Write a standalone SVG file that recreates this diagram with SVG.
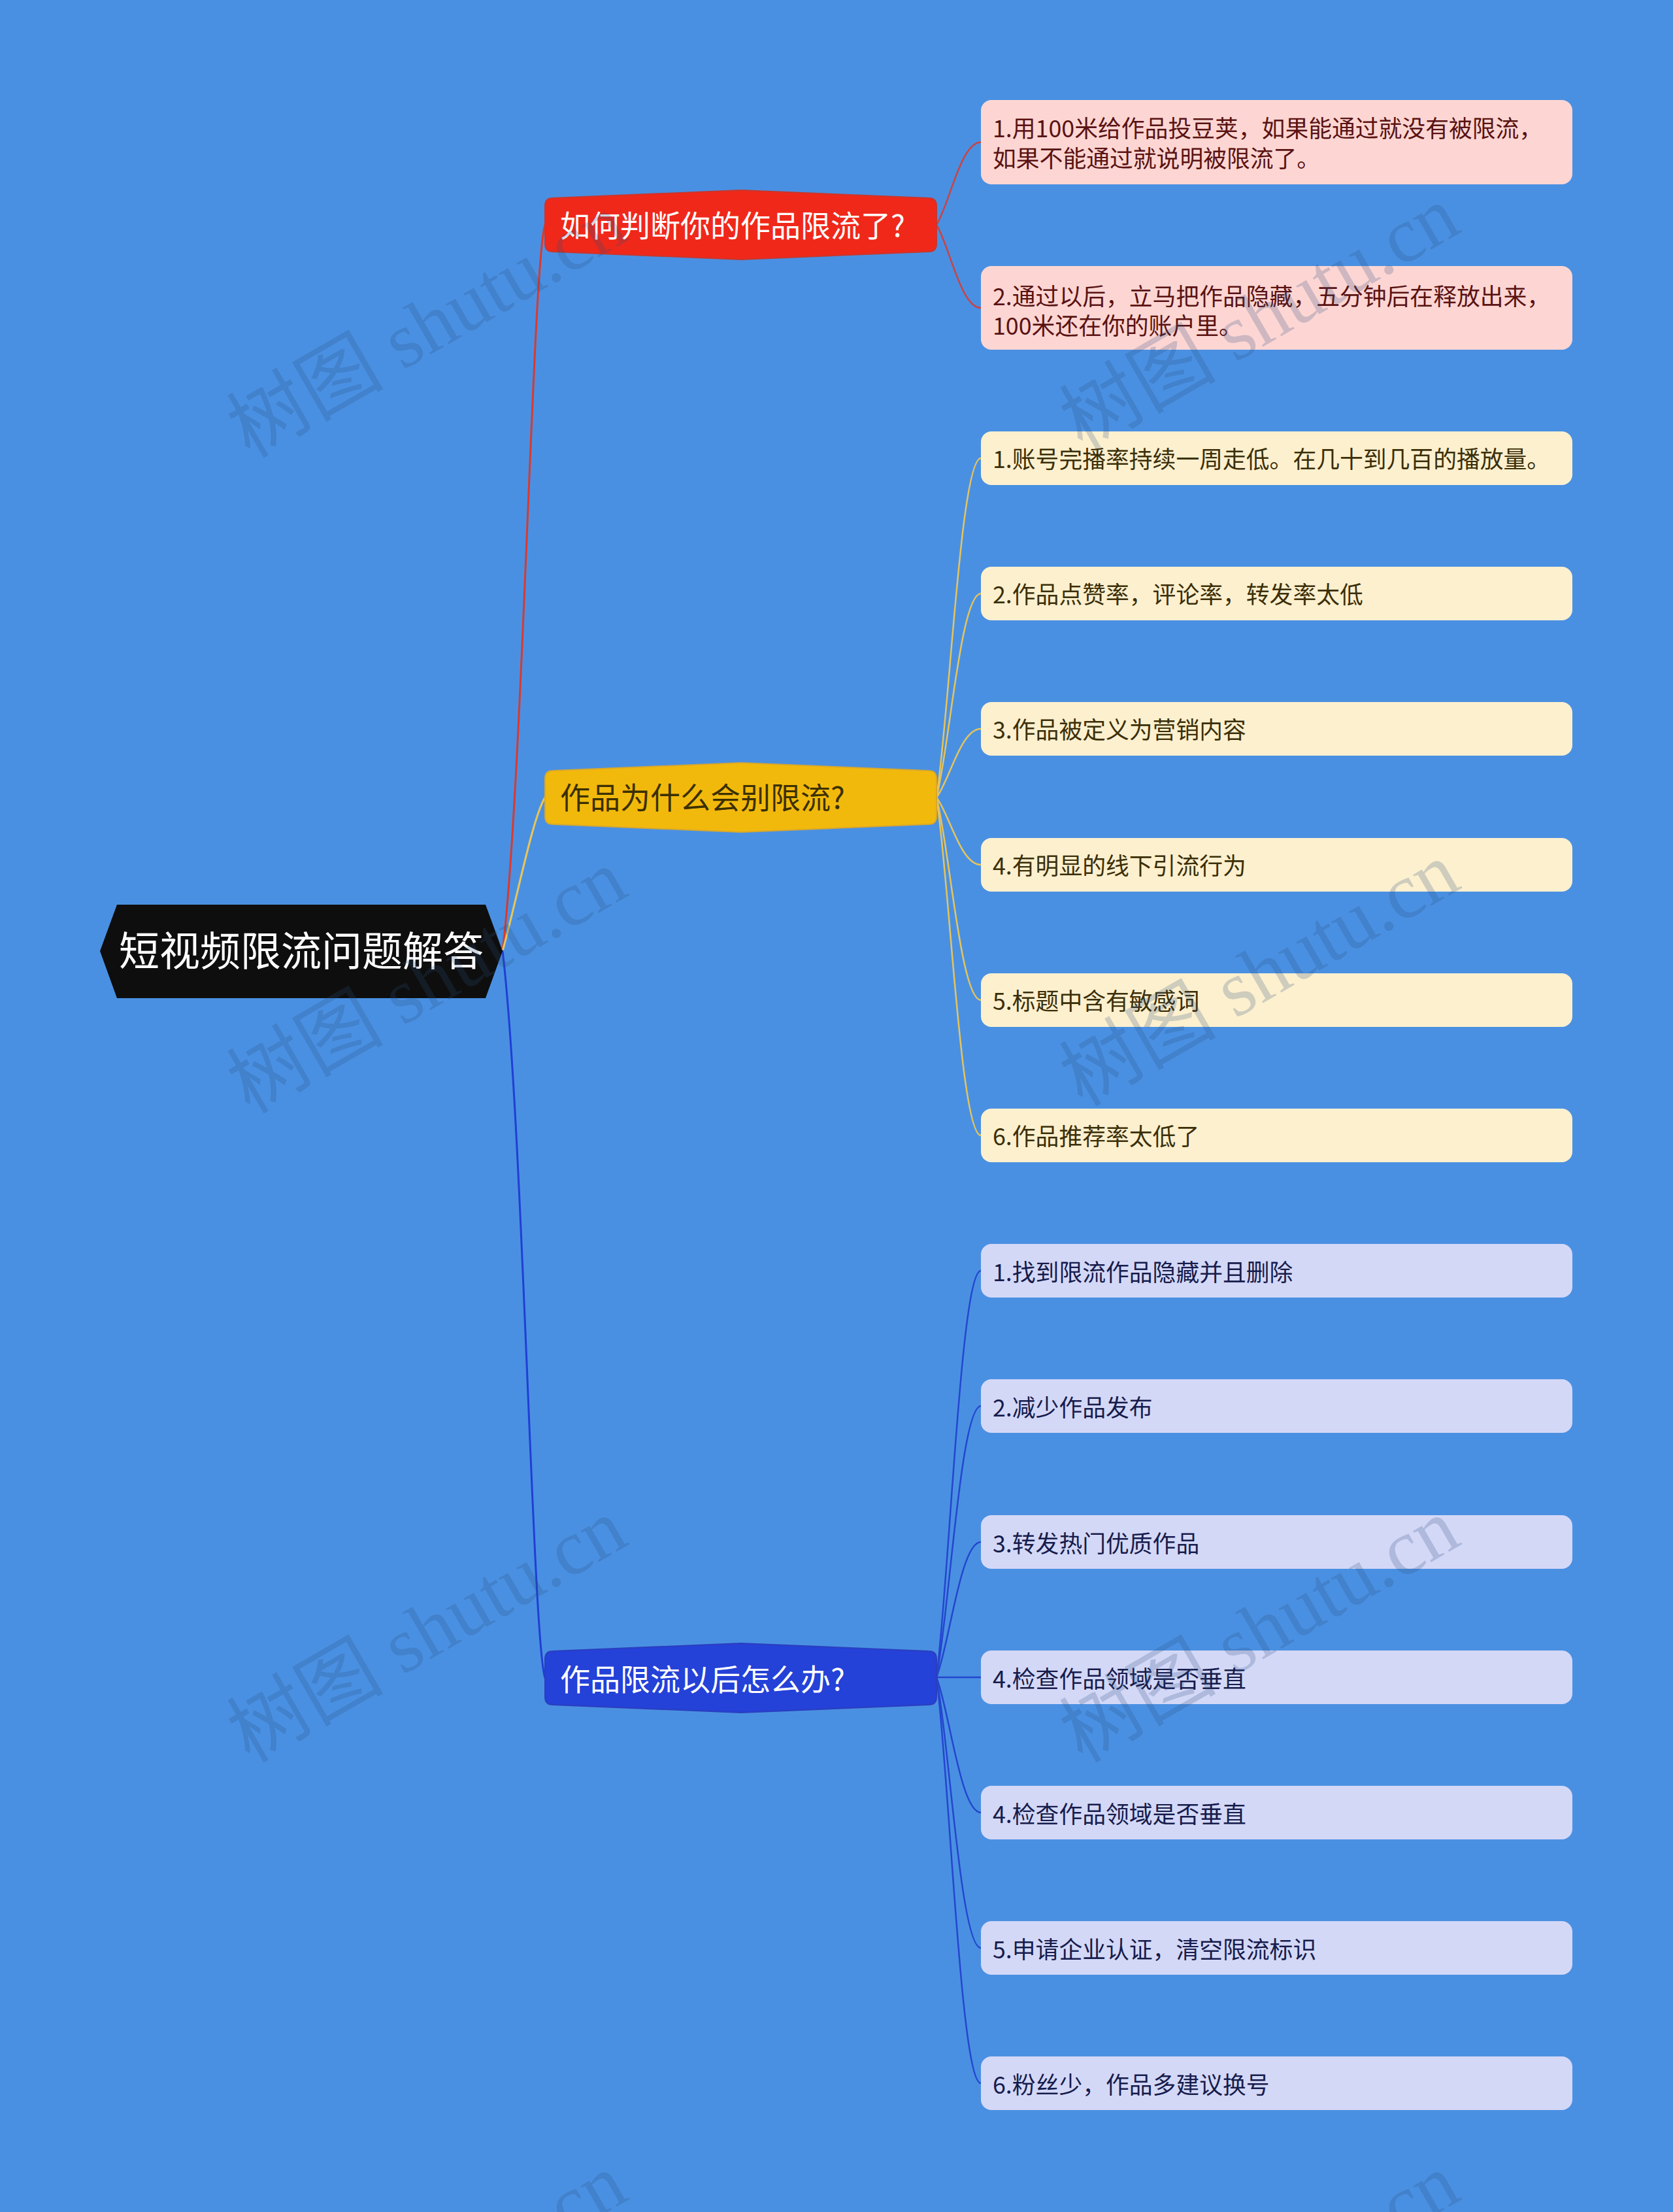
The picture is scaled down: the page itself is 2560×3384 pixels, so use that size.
<svg xmlns="http://www.w3.org/2000/svg" width="2560" height="3384" viewBox="0 0 2560 3384">
<style>
text{font-family:"Noto Sans CJK SC","Liberation Sans",sans-serif;}
.rt{font-size:62px;fill:#ffffff;text-anchor:middle;}
.l1{font-size:46px;}
.lf{font-size:35.8px;}
.pk rect{fill:#fdd6d3;} .pk text{fill:#5a1212;}
.yl rect{fill:#fdf0cf;} .yl text{fill:#3b2f08;}
.bl rect{fill:#d4d8f7;} .bl text{fill:#161c4c;}
.c{fill:none;stroke-linecap:round;}
.cr{stroke:#d83a30;stroke-width:3;} .cy{stroke:#e9c557;stroke-width:3;} .cb{stroke:#1f3fd6;stroke-width:3;}
.lr{stroke:#c84444;stroke-width:2.5;} .ly{stroke:#e5c45c;stroke-width:2.5;} .lb{stroke:#2446cf;stroke-width:2.5;}
.wm{font-family:"Liberation Serif","Noto Sans CJK SC",serif;font-size:120px;fill:#2a4f7e;opacity:0.22;}
</style>
<rect x="0" y="0" width="2560" height="3384" fill="#4a90e2"/>
<g id="connectors">
<path class="c cr" d="M769,1455 C800,1200 815,400 834,344"/>
<path class="c cy" d="M769,1455 C790,1380 815,1250 834,1220"/>
<path class="c cb" d="M769,1455 C800,1710 815,2512 834,2567"/>
<path class="c lr" d="M1433,344 C1453,312 1470,217.5 1501,217.5"/>
<path class="c lr" d="M1433,344 C1453,376 1470,471 1501,471"/>
<path class="c ly" d="M1433,1220 C1453,1090 1470,701 1501,701"/>
<path class="c ly" d="M1433,1220 C1453,1142 1470,908 1501,908"/>
<path class="c ly" d="M1433,1220 C1453,1194 1470,1115 1501,1115"/>
<path class="c ly" d="M1433,1220 C1453,1246 1470,1323 1501,1323"/>
<path class="c ly" d="M1433,1220 C1453,1297 1470,1530 1501,1530"/>
<path class="c ly" d="M1433,1220 C1453,1349 1470,1737 1501,1737"/>
<path class="c lb" d="M1433,2566 C1453,2411 1470,1944 1501,1944"/>
<path class="c lb" d="M1433,2566 C1453,2462 1470,2151 1501,2151"/>
<path class="c lb" d="M1433,2566 C1453,2514 1470,2359 1501,2359"/>
<path class="c lb" d="M1433,2566 L1501,2566"/>
<path class="c lb" d="M1433,2566 C1453,2618 1470,2773 1501,2773"/>
<path class="c lb" d="M1433,2566 C1453,2670 1470,2980 1501,2980"/>
<path class="c lb" d="M1433,2566 C1453,2721 1470,3187 1501,3187"/>
</g>
<g id="root">
<polygon points="153,1455 179,1384 743,1384 769,1455 743,1527 179,1527" fill="#0e0e0e"/>
<text class="rt" x="461" y="1478">短视频限流问题解答</text>
</g>
<g id="n-judge">
<path d="M846,303 L1134,291 L1421,303 Q1433,303 1433,315 L1433,373 Q1433,385 1421,385 L1134,397 L846,385 Q834,385 834,373 L834,315 Q834,303 846,303 Z" fill="#f0281a" stroke="#c9362c" stroke-width="2"/>
<text class="l1" x="857" y="362" fill="#ffffff">如何判断你的作品限流了?</text>
</g>
<g id="n-why">
<path d="M846,1179 L1134,1167 L1421,1179 Q1433,1179 1433,1191 L1433,1249 Q1433,1261 1421,1261 L1134,1273 L846,1261 Q834,1261 834,1249 L834,1191 Q834,1179 846,1179 Z" fill="#f2b90d" stroke="#d9a82a" stroke-width="2"/>
<text class="l1" x="857" y="1237" fill="#3b3000">作品为什么会别限流?</text>
</g>
<g id="n-what">
<path d="M846,2526 L1134,2514 L1421,2526 Q1433,2526 1433,2538 L1433,2596 Q1433,2608 1421,2608 L1134,2620 L846,2608 Q834,2608 834,2596 L834,2538 Q834,2526 846,2526 Z" fill="#2441d8" stroke="#2a3fbf" stroke-width="2"/>
<text class="l1" x="857" y="2586" fill="#ffffff">作品限流以后怎么办?</text>
</g>
<g id="p1" class="pk"><rect x="1501" y="153" width="905" height="129" rx="16"/>
<text class="lf" x="1519" y="210">1.用100米给作品投豆荚，如果能通过就没有被限流，</text>
<text class="lf" x="1519" y="256">如果不能通过就说明被限流了。</text></g>
<g id="p2" class="pk"><rect x="1501" y="407" width="905" height="128" rx="16"/>
<text class="lf" x="1519" y="467">2.通过以后，立马把作品隐藏，五分钟后在释放出来，</text>
<text class="lf" x="1519" y="512">100米还在你的账户里。</text></g>
<g id="y1" class="yl"><rect x="1501" y="660" width="905" height="82" rx="16"/><text class="lf" x="1519" y="716">1.账号完播率持续一周走低。在几十到几百的播放量。</text></g>
<g id="y2" class="yl"><rect x="1501" y="867" width="905" height="82" rx="16"/><text class="lf" x="1519" y="923">2.作品点赞率，评论率，转发率太低</text></g>
<g id="y3" class="yl"><rect x="1501" y="1074" width="905" height="82" rx="16"/><text class="lf" x="1519" y="1130">3.作品被定义为营销内容</text></g>
<g id="y4" class="yl"><rect x="1501" y="1282" width="905" height="82" rx="16"/><text class="lf" x="1519" y="1338">4.有明显的线下引流行为</text></g>
<g id="y5" class="yl"><rect x="1501" y="1489" width="905" height="82" rx="16"/><text class="lf" x="1519" y="1545">5.标题中含有敏感词</text></g>
<g id="y6" class="yl"><rect x="1501" y="1696" width="905" height="82" rx="16"/><text class="lf" x="1519" y="1752">6.作品推荐率太低了</text></g>
<g id="b1" class="bl"><rect x="1501" y="1903" width="905" height="82" rx="16"/><text class="lf" x="1519" y="1960">1.找到限流作品隐藏并且删除</text></g>
<g id="b2" class="bl"><rect x="1501" y="2110" width="905" height="82" rx="16"/><text class="lf" x="1519" y="2167">2.减少作品发布</text></g>
<g id="b3" class="bl"><rect x="1501" y="2318" width="905" height="82" rx="16"/><text class="lf" x="1519" y="2375">3.转发热门优质作品</text></g>
<g id="b4" class="bl"><rect x="1501" y="2525" width="905" height="82" rx="16"/><text class="lf" x="1519" y="2582">4.检查作品领域是否垂直</text></g>
<g id="b5" class="bl"><rect x="1501" y="2732" width="905" height="82" rx="16"/><text class="lf" x="1519" y="2789">4.检查作品领域是否垂直</text></g>
<g id="b6" class="bl"><rect x="1501" y="2939" width="905" height="82" rx="16"/><text class="lf" x="1519" y="2996">5.申请企业认证，清空限流标识</text></g>
<g id="b7" class="bl"><rect x="1501" y="3146" width="905" height="82" rx="16"/><text class="lf" x="1519" y="3203">6.粉丝少，作品多建议换号</text></g>
<g id="watermarks">
<text class="wm" transform="translate(382,702) rotate(-30)">树图 shutu.cn</text>
<text class="wm" transform="translate(1656,690) rotate(-30)">树图 shutu.cn</text>
<text class="wm" transform="translate(382,1705) rotate(-30)">树图 shutu.cn</text>
<text class="wm" transform="translate(1656,1694) rotate(-30)">树图 shutu.cn</text>
<text class="wm" transform="translate(382,2698) rotate(-30)">树图 shutu.cn</text>
<text class="wm" transform="translate(1656,2698) rotate(-30)">树图 shutu.cn</text>
<text class="wm" transform="translate(382,3700) rotate(-30)">树图 shutu.cn</text>
<text class="wm" transform="translate(1656,3700) rotate(-30)">树图 shutu.cn</text>
</g>
</svg>
